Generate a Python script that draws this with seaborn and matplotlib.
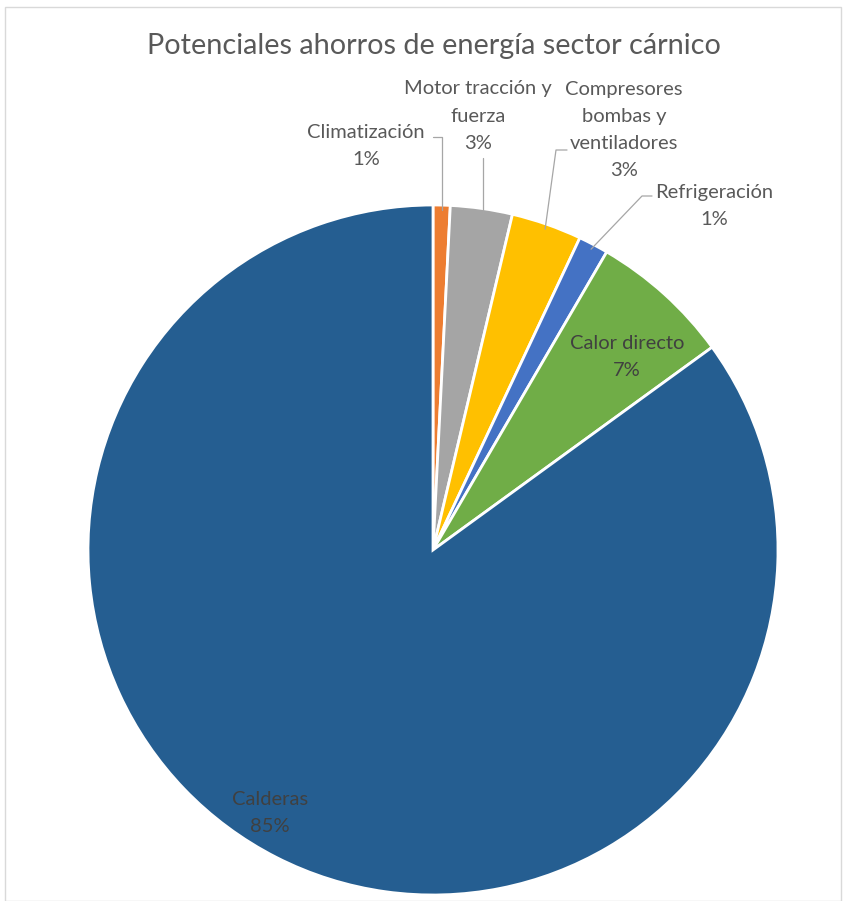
import numpy as np
import matplotlib
matplotlib.use("Agg")
import matplotlib.pyplot as plt
import seaborn as sns
from matplotlib.patches import Rectangle

categories = ["Climatización", "Motor tracción y\nfuerza", "Compresores\nbombas y\nventiladores",
              "Refrigeración", "Calor directo", "Calderas"]
values = [0.8, 2.9, 3.3, 1.4, 6.6, 85.0]
colors = ["#ED7D31", "#A5A5A5", "#FFC000", "#4472C4", "#70AD47", "#255E91"]

sns.set_theme(style="white")
plt.rcParams['font.family'] = ['Lato', 'DejaVu Sans']

W, H = 846, 901
fig = plt.figure(figsize=(W / 100, H / 100), dpi=100)
cx, cy, R = 433, 550, 345
ax = fig.add_axes([(cx - R) / W, (H - cy - R) / H, 2 * R / W, 2 * R / H])

wedges, _ = ax.pie(values, colors=colors, startangle=90, counterclock=False, radius=1,
                   center=(0, 0), wedgeprops=dict(edgecolor="white", linewidth=2))
ax.set_xlim(-1, 1)
ax.set_ylim(-1, 1)
ax.set_aspect("auto")
ax.set_axis_off()

def px2d(px, py):
    return (px - cx) / R, (cy - py) / R

pct = [f"{v:.0f}%" for v in values]
FS = 14.5
PITCH = 27.3  # px between lines


def label(i, center_px, color, clip=False):
    lines = categories[i].split("\n") + [pct[i]]
    n = len(lines)
    x0, y0 = center_px
    for k, line in enumerate(lines):
        py = y0 + (k - (n - 1) / 2) * PITCH
        tx, ty = px2d(x0, py)
        ax.text(tx, ty, line, ha="center", va="center", fontsize=FS, color=color,
                clip_on=clip)


# outside labels: text center px, leader start px
outside = {
    0: dict(pos=(366, 146), path=[(433, 137), (442, 137)]),
    1: dict(pos=(478, 116), path=[(483, 158)]),
    2: dict(pos=(624, 130), path=[(567, 150), (556, 150)]),
    3: dict(pos=(714, 206), path=[(652, 196), (642, 196)]),
}
for i, spec in outside.items():
    label(i, spec["pos"], "#595959")
    w = wedges[i]
    mid = np.deg2rad((w.theta1 + w.theta2) / 2)
    ex, ey = 0.985 * np.cos(mid), 0.985 * np.sin(mid)
    pts = [px2d(*p) for p in spec["path"]] + [(ex, ey)]
    if i == 1:
        pts = [(pts[0][0], pts[0][1]), (pts[0][0], ey)]
    if i == 0:
        pts = [pts[0], pts[1], (pts[1][0], ey)]
    xs, ys = zip(*pts)
    ax.plot(xs, ys, color="#A6A6A6", lw=0.9, clip_on=False)

# inside labels
for i, p in {4: (627, 357), 5: (270, 813)}.items():
    label(i, p, "#404040")

fig.text(434 / W, 1 - 46 / H, "Potenciales ahorros de energía sector cárnico",
         ha="center", va="center", fontsize=20.8, color="#595959")

fig.patches.append(Rectangle((5 / W, 0), (W - 10) / W, 1 - 7 / H, transform=fig.transFigure,
                             fill=False, edgecolor="#D9D9D9", lw=1))

fig.savefig("out.png", dpi=100, facecolor="white")
